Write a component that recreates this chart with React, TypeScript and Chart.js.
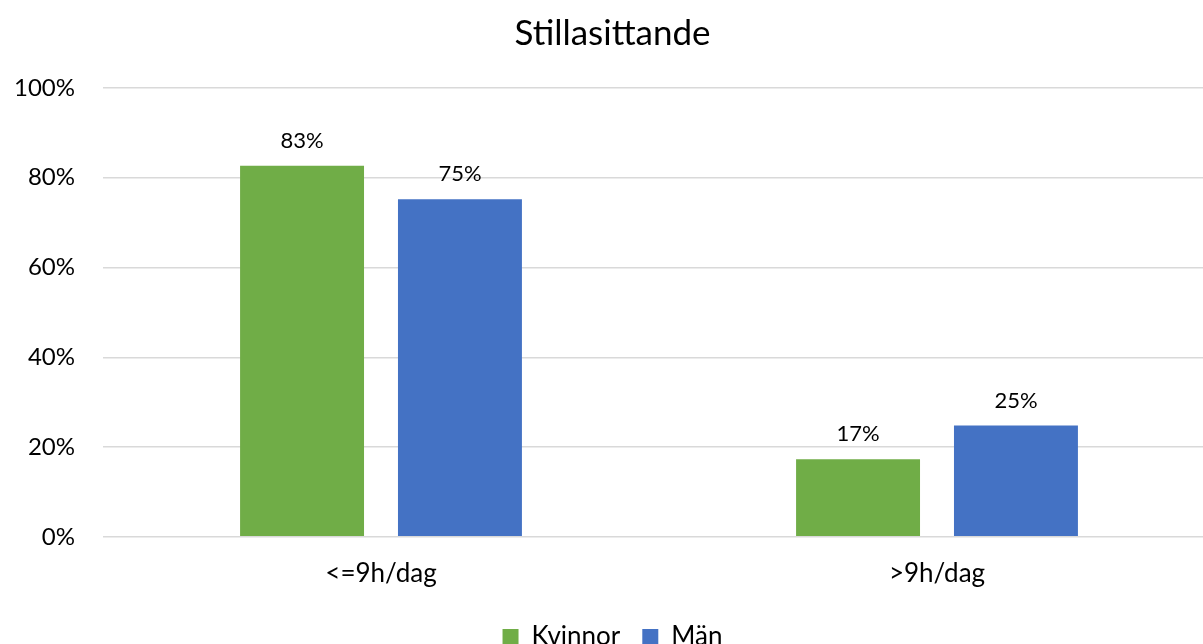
import React, { useEffect, useRef } from "react";
import { Chart, registerables } from "chart.js";

Chart.register(...registerables);

const categories = ["<=9h/dag", ">9h/dag"];
const kvinnor = [82.7, 17.3];
const man = [75.2, 24.8];
const kvinnorLabels = ["83%", "17%"];
const manLabels = ["75%", "25%"];
const yTicks = [0, 20, 40, 60, 80, 100];

const FONT = "Lato, 'Open Sans', sans-serif";

const valueLabels = {
  id: "valueLabels",
  afterDatasetsDraw(chart: any) {
    const ctx = chart.ctx;
    ctx.save();
    ctx.font = `22px ${FONT}`;
    ctx.fillStyle = "#000";
    ctx.textAlign = "center";
    ctx.textBaseline = "bottom";
    const labelSets = [kvinnorLabels, manLabels];
    chart.data.datasets.forEach((_: any, di: number) => {
      const meta = chart.getDatasetMeta(di);
      meta.data.forEach((bar: any, i: number) => {
        ctx.fillText(labelSets[di][i], bar.x, bar.y - 14);
      });
    });
    ctx.restore();
  },
};

export default function App() {
  const ref = useRef<HTMLCanvasElement>(null);
  useEffect(() => {
    if (!ref.current) return;
    const chart = new Chart(ref.current, {
      type: "bar",
      data: {
        labels: categories,
        datasets: [
          { label: "Kvinnor", data: kvinnor, backgroundColor: "#70AD47", categoryPercentage: 0.568, barPercentage: 0.785 },
          { label: "Män", data: man, backgroundColor: "#4472C4", categoryPercentage: 0.568, barPercentage: 0.785 },
        ],
      },
      options: {
        animation: false,
        responsive: false,
        maintainAspectRatio: false,
        layout: { padding: { left: 10, right: 25, top: 0, bottom: 0 } },
        plugins: {
          title: {
            display: true,
            text: "Stillasittande",
            color: "#000",
            font: { family: FONT, size: 35, weight: "normal" },
            padding: { top: 13, bottom: 33 },
          },
          legend: {
            position: "bottom",
            labels: {
              color: "#000",
              font: { family: FONT, size: 26 },
              boxWidth: 16,
              boxHeight: 16,
              padding: 22,
            },
          },
          tooltip: { enabled: false },
        },
        scales: {
          x: {
            grid: { display: false },
            border: { color: "#d9d9d9" },
            ticks: { color: "#000", font: { family: FONT, size: 26 }, padding: 13 },
          },
          y: {
            min: 0,
            max: 100,
            afterBuildTicks: (s: any) => {
              s.ticks = yTicks.map((v) => ({ value: v }));
            },
            afterFit: (s: any) => {
              s.width = 93;
            },
            grid: { color: "#d9d9d9", lineWidth: 1.5, drawTicks: false },
            border: { display: false },
            ticks: {
              color: "#000",
              font: { family: FONT, size: 24 },
              padding: 28,
              callback: (v: any) => v + "%",
            },
          },
        },
      },
      plugins: [valueLabels],
    });
    return () => chart.destroy();
  }, []);
  return (
    <div style={{ position: "fixed", left: 0, top: 0, width: 1240, height: 660, background: "#fff" }}>
      <canvas ref={ref} width={1240} height={660} style={{ width: 1240, height: 660 }} />
    </div>
  );
}
